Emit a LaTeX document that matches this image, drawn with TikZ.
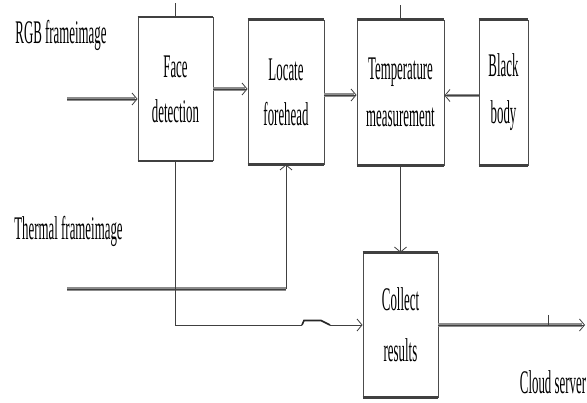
\documentclass[tikz,border=0pt]{standalone}
\usepackage{fontspec}
\setmainfont{Liberation Serif}
\newfontfamily\condfont{Liberation Serif}[FakeStretch=0.39]
\usetikzlibrary{arrows.meta}
\begin{document}
\begin{tikzpicture}[x=1pt,y=-1pt,
  box/.style={draw=black!70, line width=0.9pt, fill=white, inner sep=0pt, align=center,
    font=\condfont\fontsize{33}{45}\selectfont},
  lbl/.style={inner sep=0pt, font=\condfont\fontsize{33}{38}\selectfont},
  shaft/.style={draw=black!45, line width=3.2pt, shorten >=3pt},
  core/.style={draw=black!75, line width=0.7pt},
  tip/.style={-{Straight Barb[length=5pt,width=12pt,line width=0.8pt]}},
  edgetop/.style={draw=black!75, line width=2.8pt}]
\fill[white] (0,0) rectangle (587,403);
\useasboundingbox (0,0) rectangle (587,403);

% boxes
\node[box, minimum width=75pt, minimum height=143pt] (fd) at (175.5,89) {Face\\detection};
\node[box, minimum width=76pt, minimum height=144pt] (lf) at (286,92) {Locate\\forehead};
\node[box, minimum width=87pt, minimum height=145pt] (tm) at (400.5,92.5) {Temperature\\[2pt]measurement};
\node[box, minimum width=49pt, minimum height=145pt] (bb) at (503.5,92.5) {Black\\[2pt]body};
\node[box, minimum width=75pt, minimum height=144pt] (cr) at (400.5,325) {Collect\\[6pt]results};

\foreach \n in {fd,lf,tm,bb,cr}{
  \draw[edgetop] (\n.north west) -- (\n.north east);
  \draw[edgetop] (\n.south west) -- (\n.south east);
}

% labels
\node[lbl, anchor=base] (rgb) at (61,44) {RGB frameimage};
\node[lbl, anchor=base] (thm) at (68.5,240) {Thermal frameimage};
\node[lbl, anchor=base] (cloudlbl) at (553,394) {Cloud server};

% coordinates
\coordinate (rgbin) at (67,99);
\coordinate (thin) at (67,289);
\coordinate (hopA) at (302,325);
\coordinate (hopB) at (304,320.5);
\coordinate (hopC) at (321,320.5);
\coordinate (hopD) at (330,325);
\coordinate (cloud) at (585,325);
\coordinate (tickA) at (548,315);
\coordinate (tickB) at (548,325);

% top ticks
\draw[core] (fd.north) -- ++(0,-14);
\draw[core] (tm.north) -- ++(0,-15);

% RGB -> face detection
\draw[shaft] (rgbin) -- (rgbin -| fd.west);
\draw[core,tip] (rgbin) -- (rgbin -| fd.west);
% face -> locate
\draw[shaft] (fd.east) -- (fd.east -| lf.west);
\draw[core,tip] (fd.east) -- (fd.east -| lf.west);
% locate -> temperature
\draw[shaft] ([yshift=-3pt]lf.east) -- ([yshift=-3pt]lf.east -| tm.west);
\draw[core,tip] ([yshift=-3pt]lf.east) -- ([yshift=-3pt]lf.east -| tm.west);
% black body -> temperature
\draw[shaft] ([yshift=-3pt]bb.west) -- ([yshift=-3pt]bb.west -| tm.east);
\draw[core,tip] ([yshift=-3pt]bb.west) -- ([yshift=-3pt]bb.west -| tm.east);

% thermal -> locate forehead
\draw[shaft, shorten >=0pt] (thin) -- (thin -| lf.south);
\draw[core] (thin) -- (thin -| lf.south);
\draw[core,tip] (thin -| lf.south) -- (lf.south);

% face detection -> collect results (with hop)
\draw[core] (fd.south) -- (fd.south |- hopA) -- (hopA);
\draw[draw=black!85, line width=1.6pt] (hopA) -- (hopB) -- (hopC) -- (hopD);
\draw[core,tip] (hopD) -- (hopD -| cr.west);

% temperature -> collect
\draw[core,tip] (tm.south) -- (tm.south |- cr.north);

% collect -> cloud
\draw[shaft] (cr.east |- cloud) -- (cloud);
\draw[core,tip] (cr.east |- cloud) -- (cloud);
\draw[core] (tickA) -- (tickB);
\end{tikzpicture}
\end{document}
